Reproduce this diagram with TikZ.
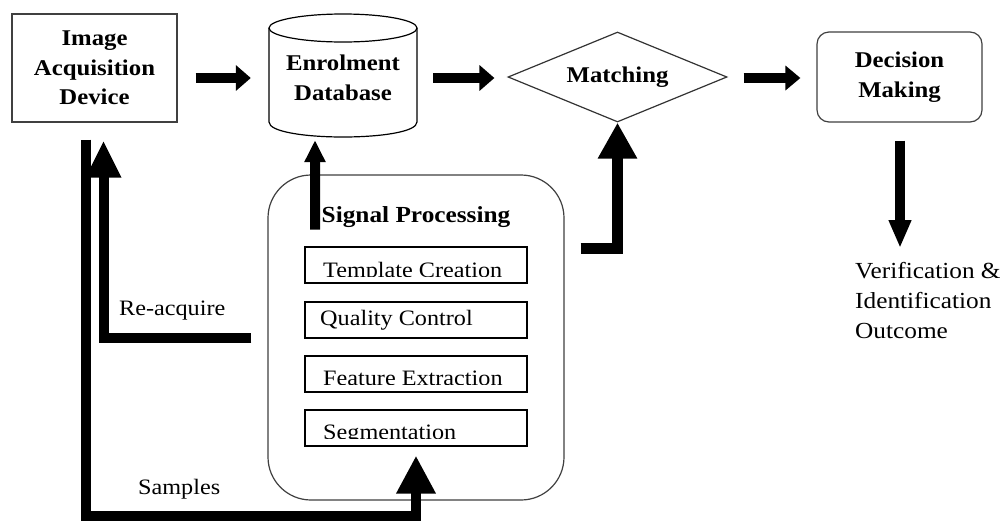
\documentclass[tikz,border=0pt]{standalone}
\usepackage{fontspec}
\setmainfont{Liberation Serif}[FakeStretch=1.1]
\usetikzlibrary{arrows.meta,shapes.geometric}
\begin{document}
\begin{tikzpicture}[x=1pt,y=-1pt,
  box/.style={draw=black!75,line width=1.2pt,inner sep=0pt},
  blabel/.style={font=\fontsize{22.5}{29.5}\selectfont\bfseries,align=center},
  ntext/.style={font=\fontsize{22}{30}\selectfont,inner sep=0pt},
  fat/.style={line width=10pt,line join=miter},
]
\fill[white] (0,0) rectangle (1008,520);
\useasboundingbox (0,0) rectangle (1008,520);

% top row
\node[box,minimum width=165pt,minimum height=108pt,blabel] (iad) at (94.5,68) {Image\\Acquisition\\Device};

\draw[line width=1.2pt] (269,28) -- (269,122) .. controls (269,142) and (417,142) .. (417,122) -- (417,28);
\draw[line width=1.2pt] (343,28) ellipse [x radius=74, y radius=14];
\node[inner sep=0pt,minimum width=148pt,minimum height=123pt,blabel] (db) at (343,78) {Enrolment\\Database};

\node[draw=black!80,line width=1.2pt,diamond,aspect=2.43,inner sep=0pt,minimum width=219pt,minimum height=90pt,blabel] (mat) at (617.5,77) {Matching};

\node[box,rounded corners=12pt,minimum width=165pt,minimum height=90pt,blabel] (dm) at (899.5,77) {Decision\\Making};

\node[ntext,font=\fontsize{23}{30}\selectfont,align=left,anchor=north west] (out) at (855,262) {Verification \&\\Identification\\Outcome};

% signal processing block
\node[box,rounded corners=43pt,minimum width=296pt,minimum height=325pt] (sp) at (416,337.5) {};
\node[inner sep=0pt,font=\fontsize{23}{28}\selectfont\bfseries,anchor=base] (spt) at (416,222) {Signal Processing};

\node[box,draw=black,minimum width=222pt,minimum height=36pt] (tc) at (416,265) {};
\node[box,draw=black,minimum width=222pt,minimum height=36pt] (qc) at (416,320) {};
\node[box,draw=black,minimum width=222pt,minimum height=36pt] (fe) at (416,374) {};
\node[box,draw=black,minimum width=222pt,minimum height=36pt] (seg) at (416,428) {};

\begin{scope}
  \clip (306,248) rectangle (526,276.5);
  \node[ntext,anchor=base west] (tct) at (323,277) {Template Creation};
\end{scope}
\node[ntext,anchor=base west] (qct) at (320,325) {Quality Control};
\begin{scope}
  \clip (306,357) rectangle (526,384);
  \node[ntext,anchor=base west] (fet) at (323,385) {Feature Extraction};
\end{scope}
\begin{scope}
  \clip (306,411) rectangle (526,438);
  \node[ntext,anchor=base west] (segt) at (323,439) {Segmentation};
\end{scope}

% labels
\node[ntext,anchor=base west] (reacq) at (119,315) {Re-acquire};
\node[ntext,anchor=base west] (samp) at (138,494) {Samples};

% connectors
\draw[fat,-{Triangle[width=25pt,length=15pt]}] ([xshift=18pt,yshift=-10pt]iad.east) -- ([xshift=-18pt]db.west);
\draw[fat,-{Triangle[width=25pt,length=15pt]}] ([xshift=16pt]db.east) -- ([xshift=-13pt,yshift=-1pt]mat.west);
\draw[fat,-{Triangle[width=24pt,length=15pt]}] ([xshift=16pt,yshift=-1pt]mat.east) -- ([xshift=-16pt,yshift=-1pt]dm.west);
\draw[fat,-{Triangle[width=21pt,length=28pt]}] ([xshift=0.5pt,yshift=-18pt]dm.south) -- ([xshift=0.5pt,yshift=14pt]dm.south |- out.north);

\draw[fat,-{Triangle[width=20pt,length=22pt]}] ([xshift=-6.5pt,yshift=-13pt]spt.west) -- ([xshift=-28pt,yshift=-0.5pt]db.south);
\draw[fat,line width=11pt,-{Triangle[width=37pt,length=36pt]}] ([xshift=16pt,yshift=89.5pt]sp.east) -| (mat.south);

\draw[fat,-{Triangle[width=33pt,length=37pt]}] ([xshift=-16pt,yshift=-0.5pt]sp.west) -| ([xshift=9pt,yshift=-18pt]iad.south);
\draw[fat,-{Triangle[width=37pt,length=38pt]}] ([xshift=-8.5pt,yshift=-17pt]iad.south) |- ([yshift=-15pt]sp.south) -- ([yshift=-9pt]seg.south);
\end{tikzpicture}
\end{document}
